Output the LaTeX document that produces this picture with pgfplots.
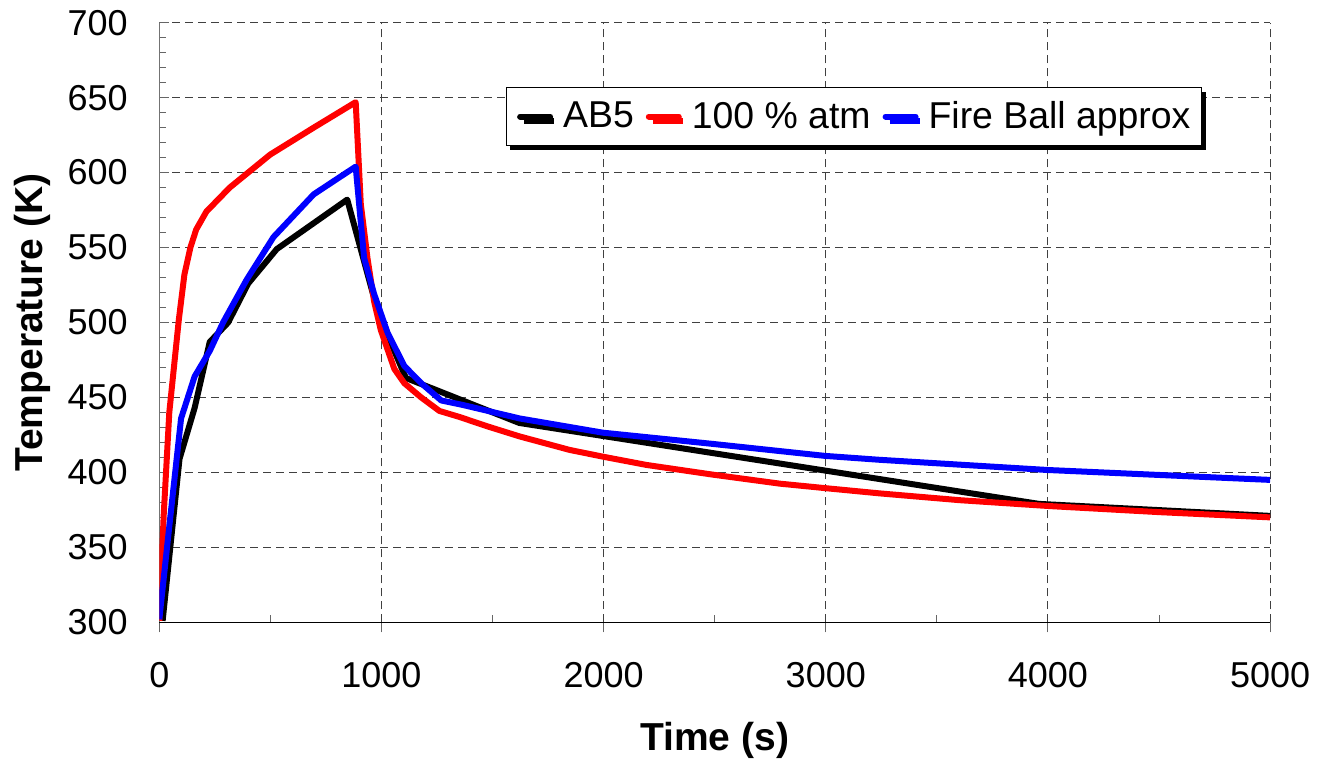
\documentclass[border=0pt]{standalone}
\usepackage{fontspec}
\setmainfont{Liberation Sans}
\usepackage{pgfplots}
\pgfplotsset{compat=1.18}
\usetikzlibrary{shadows}

\begin{document}
\begin{tikzpicture}
\useasboundingbox (-79.65pt,-69.85pt) rectangle (579.35pt,311.15pt);
\begin{axis}[
  scale only axis, width=555.4pt, height=299.8pt,
  xmin=0, xmax=5000, ymin=300, ymax=700,
  xtick={0,1000,...,5000}, minor x tick num=1,
  ytick={300,350,...,700}, minor y tick num=4,
  axis x line*=bottom, axis y line*=left,
  x axis line style={black, line width=0.6pt},
  y axis line style={black!55, line width=0.6pt},
  tick align=inside, major tick length=5pt, minor tick length=3.5pt,
  tick style={black!60, line width=0.5pt},
  major x tick style={yshift=-5pt},
  grid=major,
  major grid style={black!75, line width=0.5pt, dash pattern=on 4pt off 2.5pt},
  /pgf/number format/assume math mode=true,
  /pgf/number format/1000 sep={},
  ticklabel style={font=\fontsize{18}{20}\selectfont},
  xticklabel style={anchor=center, yshift=-26.3pt},
  yticklabel style={anchor=east, inner sep=0pt, xshift=-15.6pt},
  every axis x label/.style={at={(axis description cs:0.5,-0.1963)}, anchor=center},
  every axis y label/.style={at={(axis description cs:-0.1145,0.5)}, anchor=center, rotate=90},
  label style={font=\fontsize{19.5}{22}\selectfont\bfseries},
  xlabel={Time (s)}, ylabel={Temperature (K)},
  legend style={at={(axis description cs:0.9388,0.8928)}, anchor=north east,
    legend columns=-1, draw=black, line width=0.6pt, fill=white,
    inner xsep=5.5pt, inner ysep=7pt,
    drop shadow={shadow xshift=2pt, shadow yshift=-2pt, fill=black, opacity=1},
    nodes={inner sep=0pt},
    /tikz/column sep=0pt,
    font=\fontsize{18.7}{21}\selectfont},
  legend image code/.code={\draw[#1, line width=3pt, line cap=round] (0pt,0pt) -- (15pt,0pt);},
  every axis plot/.append style={line width=3pt, line join=round},
]
\addplot[black] coordinates {
(15,301) (91,409) (159,443) (227,487) (310,500) (400,526) (529,549) (846,582)
(960,520) (1006,500) (1058,481) (1110,463) (1620,433) (3960,379) (5000,371)};
\addplot[red] coordinates {
(0,301) (20,372) (45,440) (88,502) (113,532) (140,550) (166,562) (212,574)
(317,590) (499,612) (695,630) (884,647) (907,579) (937,543) (967,514) (997,495)
(1058,469) (1103,459.5) (1179,450) (1261,441) (1351,437) (1471,431) (1622,424)
(1847,415) (1997,410.5) (2192,405) (2492,398.5) (2793,392.5) (2998,389.5)
(3243,386) (3600,381.5) (4000,377.6) (4500,373.5) (5000,370)};
\addplot[blue] coordinates {
(0,302) (45,364) (98,436) (159,464) (227,481) (287,500) (393,528.5) (514,557)
(695,585.5) (884,604) (905,570) (922,543) (967,519) (1028,493) (1103,471)
(1179,459.5) (1269,448) (1366,445) (1622,436) (1997,426.5) (2492,419)
(2998,411) (3243,408.4) (4000,401.6) (5000,395)};
\legend{\rule{5pt}{0pt}AB5\rule{6pt}{0pt}, \rule{5pt}{0pt}100 \% atm\rule{6pt}{0pt}, \rule{5pt}{0pt}Fire Ball approx}
\end{axis}
\end{tikzpicture}
\end{document}
